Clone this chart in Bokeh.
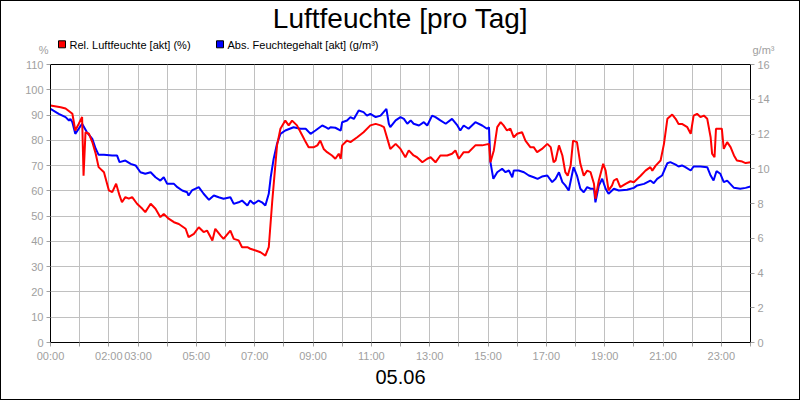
from bokeh.plotting import figure
from bokeh.models import Range1d, LinearAxis, FixedTicker
from bokeh.layouts import column
from bokeh.core.properties import value
from bokeh.embed import file_html
from bokeh.resources import INLINE

# relative humidity (%), time in minutes since midnight
rh_min = [0, 21, 31, 41, 45, 51, 58, 65, 68, 72, 79, 86, 93, 99, 110, 120, 127, 135, 142, 147,
          154, 161, 168, 178, 189, 195, 206, 216, 226, 233, 243, 254, 264, 278, 284, 295, 305, 315,
          322, 333, 339, 350, 356, 370, 377, 387, 394, 405, 411, 422, 432, 442, 449, 456, 466, 473,
          483, 490, 497, 507, 518, 525, 531, 542, 549, 555, 562, 569, 579, 586, 593, 597, 600, 610,
          617, 631, 644, 658, 669, 679, 686, 696, 699, 710, 720, 730, 737, 747, 754, 765, 775, 782,
          792, 802, 816, 826, 833, 840, 850, 860, 874, 888, 902, 905, 912, 919, 926, 932, 939, 946,
          953, 960, 970, 977, 987, 994, 1001, 1011, 1022, 1029, 1035, 1039, 1046, 1053, 1059, 1064,
          1070, 1075, 1083, 1090, 1097, 1104, 1111, 1118, 1121, 1128, 1137, 1142, 1148, 1155, 1159,
          1165, 1172, 1183, 1193, 1200, 1214, 1224, 1234, 1238, 1245, 1255, 1262, 1269, 1279, 1286,
          1292, 1299, 1310, 1317, 1323, 1330, 1337, 1344, 1351, 1358, 1361, 1366, 1369, 1381, 1385,
          1392, 1399, 1406, 1412, 1423, 1430, 1440]
rh_val = [93.8, 93.1, 92.6, 91.1, 90.5, 83.9, 86.5, 89.2, 66.0, 83.2, 82.6, 79.3, 74.7, 69.4, 67.4,
          60.2, 59.5, 62.8, 58.2, 55.5, 57.5, 56.9, 57.5, 54.9, 52.9, 51.6, 54.9, 52.9, 49.6, 50.9,
          49.0, 47.6, 46.9, 45.0, 41.7, 43.0, 45.6, 43.7, 44.3, 40.4, 45.0, 42.3, 41.0, 44.3, 41.0,
          40.4, 37.7, 37.7, 37.1, 36.4, 35.7, 34.4, 37.7, 55.5, 78.0, 84.6, 87.8, 85.9, 87.8, 85.9,
          81.9, 79.3, 77.3, 77.3, 78.0, 79.9, 76.6, 75.3, 74.0, 72.7, 74.7, 72.7, 78.0, 79.9, 79.3,
          81.2, 83.2, 85.9, 86.5, 85.9, 85.2, 78.6, 76.6, 78.6, 76.6, 73.3, 76.0, 74.0, 73.3, 71.3,
          72.7, 73.3, 71.3, 74.0, 74.0, 74.7, 76.0, 72.7, 75.3, 75.3, 78.0, 78.0, 78.6, 71.3, 76.0,
          85.2, 87.2, 85.9, 83.9, 84.6, 81.2, 82.6, 83.2, 79.9, 77.3, 77.3, 75.3, 76.6, 78.6, 77.3,
          71.3, 72.0, 78.0, 74.0, 67.4, 66.0, 70.0, 79.9, 79.3, 70.7, 66.0, 68.0, 67.4, 62.8, 56.9,
          64.1, 70.7, 68.0, 60.2, 62.1, 64.1, 64.8, 61.5, 62.8, 63.8, 63.4, 66.0, 68.0, 69.4, 68.0,
          70.0, 72.0, 78.6, 88.5, 90.2, 88.5, 86.5, 86.5, 85.2, 82.6, 89.8, 90.5, 89.2, 89.8, 88.5,
          81.2, 74.7, 73.3, 84.6, 84.6, 76.6, 79.3, 77.3, 74.0, 72.0, 71.6, 71.0, 71.3]

# absolute humidity (g/m³)
ah_min = [0, 17, 31, 38, 41, 45, 51, 58, 65, 75, 86, 93, 99, 110, 127, 137, 142, 154, 165, 175,
          185, 195, 206, 216, 226, 233, 240, 254, 261, 271, 281, 284, 291, 305, 315, 326, 336, 346,
          356, 370, 377, 387, 394, 405, 411, 418, 428, 435, 442, 449, 453, 459, 466, 473, 483, 500,
          514, 525, 535, 545, 559, 566, 572, 576, 586, 597, 600, 610, 617, 624, 634, 644, 651, 658,
          669, 679, 691, 696, 699, 710, 720, 727, 734, 741, 747, 758, 768, 775, 785, 792, 802, 813,
          826, 837, 843, 850, 860, 874, 888, 898, 902, 905, 911, 919, 929, 936, 943, 950, 953, 963,
          974, 984, 994, 1002, 1011, 1022, 1032, 1039, 1046, 1053, 1059, 1066, 1076, 1083, 1090,
          1097, 1104, 1111, 1118, 1121, 1128, 1135, 1142, 1148, 1159, 1169, 1186, 1200, 1207, 1221,
          1234, 1241, 1248, 1258, 1269, 1275, 1286, 1292, 1299, 1306, 1317, 1323, 1337, 1351, 1358,
          1364, 1370, 1378, 1385, 1392, 1406, 1419, 1430, 1440]
ah_val = [13.45, 13.16, 12.97, 12.78, 12.87, 12.68, 12.01, 12.30, 12.59, 12.10, 11.72, 11.15, 10.80,
          10.80, 10.76, 10.76, 10.38, 10.47, 10.28, 10.19, 9.80, 9.71, 9.80, 9.51, 9.32, 9.51, 9.13,
          9.13, 8.94, 8.75, 8.65, 8.46, 8.75, 8.94, 8.56, 8.21, 8.46, 8.36, 8.27, 8.36, 7.98, 8.07,
          8.17, 7.88, 8.17, 7.98, 8.17, 8.07, 7.88, 8.56, 9.51, 10.57, 11.44, 12.01, 12.20, 12.39,
          12.30, 12.30, 12.01, 12.20, 12.49, 12.39, 12.30, 12.39, 12.36, 12.20, 12.68, 12.78, 12.97,
          12.87, 13.35, 13.26, 13.06, 13.16, 12.97, 13.06, 13.45, 12.59, 12.39, 12.78, 12.97, 12.87,
          12.59, 12.78, 12.59, 12.49, 12.68, 12.49, 13.06, 12.97, 12.78, 12.59, 12.87, 12.49, 12.20,
          12.49, 12.30, 12.68, 12.49, 12.30, 12.39, 10.38, 9.42, 9.80, 10.00, 9.80, 9.90, 9.51, 9.90,
          9.90, 9.80, 9.61, 9.51, 9.42, 9.55, 9.61, 9.23, 9.42, 9.80, 9.23, 9.04, 8.75, 10.09, 9.61,
          8.85, 8.65, 8.94, 8.85, 8.85, 8.07, 9.04, 9.42, 8.85, 8.56, 8.85, 8.75, 8.79, 8.90, 9.04,
          9.13, 9.32, 9.17, 9.42, 9.61, 10.32, 10.38, 10.24, 10.13, 10.19, 10.09, 9.90, 10.13, 10.13,
          10.09, 9.61, 9.32, 9.86, 9.71, 9.23, 9.32, 8.90, 8.85, 8.90, 8.98]

hour_ticks = list(range(25))
hour_labels = ["00:00", "", "02:00", "03:00", "", "05:00", "", "07:00", "", "09:00", "", "11:00",
               "", "13:00", "", "15:00", "", "17:00", "", "19:00", "", "21:00", "", "23:00", ""]
rh_ticks = list(range(0, 111, 10))
ah_ticks = list(range(0, 17, 2))

title_text = "Luftfeuchte [pro Tag]"
date_text = "05.06"
series_names = ["Rel. Luftfeuchte [akt] (%)", "Abs. Feuchtegehalt [akt] (g/m³)"]
series_colors = ["#ff0000", "#0000ff"]
unit_left = "%"
unit_right = "g/m³"

FONT = "Liberation Sans"
GREY = "#a0a0a0"


def blank(top, bottom):
    # strip above/below the chart, x and y given in page pixels
    f = figure(frame_width=700, frame_height=bottom - top,
               x_range=Range1d(50, 750), y_range=Range1d(bottom, top),
               min_border_left=49, min_border_right=49, min_border_top=0, min_border_bottom=0,
               title=None, x_axis_location=None, y_axis_location=None,
               output_backend="svg", toolbar_location=None)
    f.grid.visible = False
    f.outline_line_color = None
    return f


def unit_axis(tick_y, caption):
    ax = LinearAxis(ticker=FixedTicker(ticks=[tick_y], minor_ticks=[]),
                    major_label_overrides={tick_y: caption})
    ax.axis_line_color = None
    ax.major_tick_line_color = None
    ax.major_tick_out = 0
    ax.major_tick_in = 0
    ax.major_label_standoff = 2
    ax.major_label_text_color = GREY
    ax.major_label_text_font = FONT
    ax.major_label_text_font_size = "11px"
    return ax


# header: title, legend, unit captions
head = blank(1, 56)
head.text(x=[400], y=[18.2], text=[title_text], text_align="center", text_baseline="alphabetic",
          text_font=value(FONT), text_font_size="28px", text_color="black")
head.scatter(x=[61.5, 219.5], y=[43.8, 43.8], marker="square", size=7,
             fill_color=series_colors, line_color="black", line_width=1)
head.text(x=[69, 227], y=[44.5, 44.5], text=series_names, text_baseline="alphabetic",
          text_font=value(FONT), text_font_size="11px", text_color="black")
head.add_layout(unit_axis(49, unit_left), "left")
head.add_layout(unit_axis(49, unit_right), "right")

# main chart
p = figure(frame_width=700, frame_height=278,
           min_border_left=49, min_border_right=49, min_border_top=8, min_border_bottom=24,
           x_range=Range1d(0, 24), y_range=Range1d(0, 110), title=None,
           output_backend="svg", toolbar_location=None, y_axis_location=None)
p.extra_y_ranges = {"ah": Range1d(0, 16)}
p.outline_line_color = "black"
p.outline_line_alpha = 1.0

left = LinearAxis(ticker=FixedTicker(ticks=rh_ticks, minor_ticks=[]))
right = LinearAxis(y_range_name="ah", ticker=FixedTicker(ticks=ah_ticks, minor_ticks=[]))
p.add_layout(left, "left")
p.add_layout(right, "right")

p.xaxis.ticker = FixedTicker(ticks=hour_ticks, minor_ticks=[])
p.xaxis.major_label_overrides = {h: lab for h, lab in zip(hour_ticks, hour_labels)}

for ax in [p.xaxis[0], left, right]:
    ax.axis_line_color = "black"
    ax.major_tick_line_color = GREY
    ax.major_tick_out = 4
    ax.major_tick_in = 0
    ax.minor_tick_line_color = None
    ax.major_label_text_color = GREY
    ax.major_label_text_font = FONT
    ax.major_label_text_font_size = "11px"
    ax.major_label_standoff = 3

p.xgrid.ticker = FixedTicker(ticks=hour_ticks)
p.ygrid.ticker = FixedTicker(ticks=rh_ticks)
p.grid.grid_line_color = "#c0c0c0"
p.grid.grid_line_width = 1

p.line([m / 60 for m in ah_min], ah_val, y_range_name="ah", line_color=series_colors[1], line_width=2)
p.line([m / 60 for m in rh_min], rh_val, line_color=series_colors[0], line_width=2)

# footer: date
foot = blank(366, 399)
foot.text(x=[400], y=[376], text=[date_text], text_align="center", text_baseline="alphabetic",
          text_font=value(FONT), text_font_size="20px", text_color="black")

layout = column(head, p, foot, spacing=0,
                styles={"border": "1px solid black", "background-color": "white"})

open("out.html", "w").write(file_html(layout, INLINE))
